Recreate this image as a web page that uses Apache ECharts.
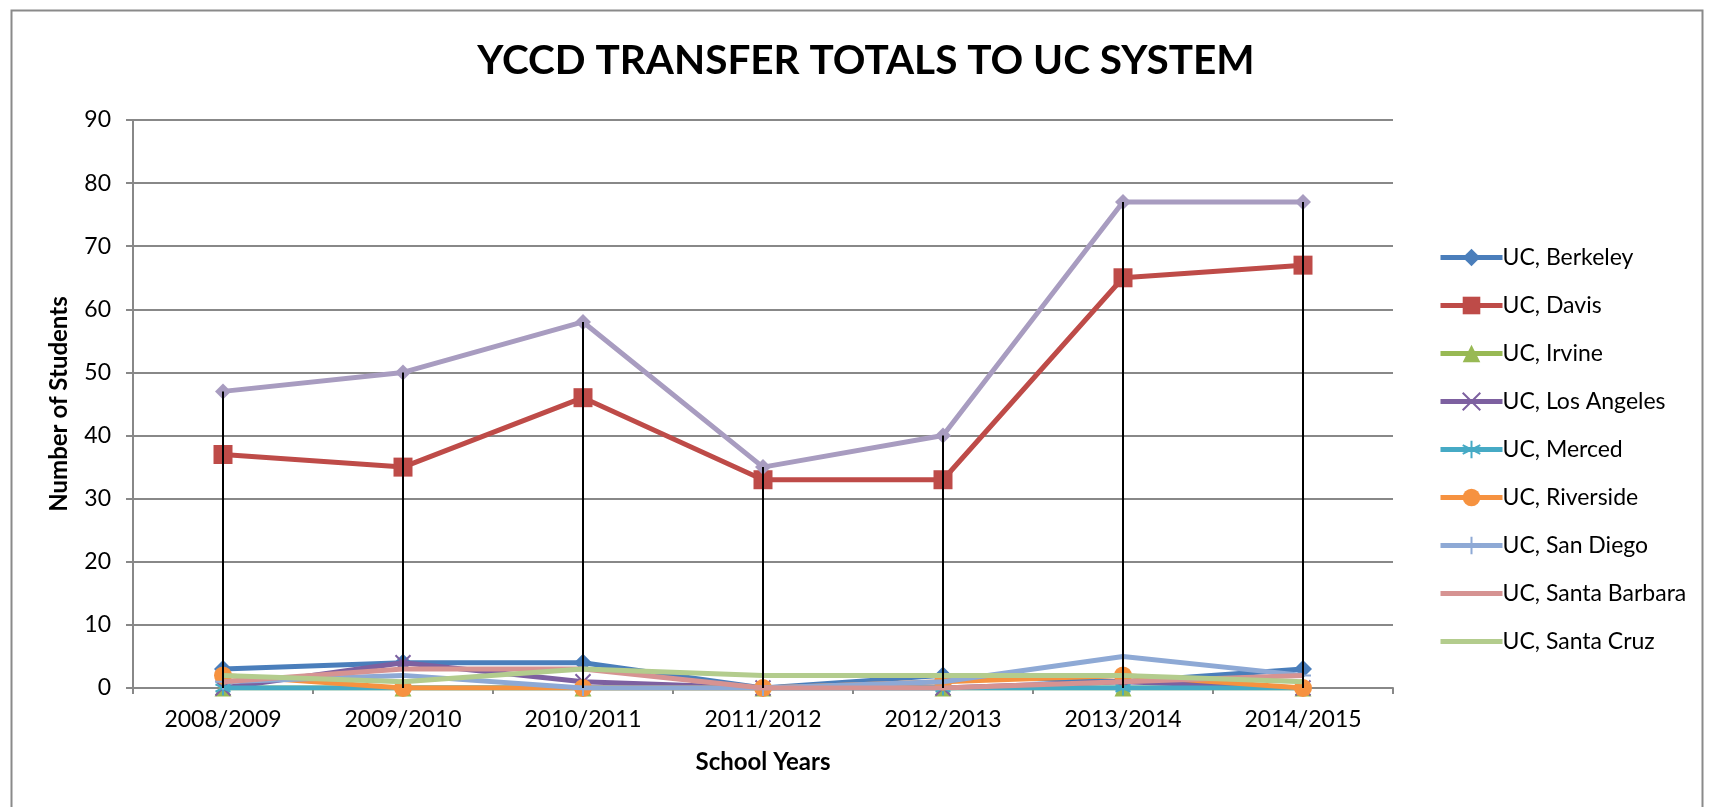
<!DOCTYPE html>
<html><head><meta charset="utf-8">
<script src="https://cdn.jsdelivr.net/npm/echarts@6/dist/echarts.min.js"></script>
<style>html,body{margin:0;padding:0;background:#fff}#c{width:1709px;height:807px}</style>
</head><body><div id="c"></div>
<script>
const categories = ['2008/2009','2009/2010','2010/2011','2011/2012','2012/2013','2013/2014','2014/2015'];
const berkeley     = [3, 4, 4, 0, 2, 1, 3];
const davis        = [37, 35, 46, 33, 33, 65, 67];
const irvine       = [0, 0, 0, 0, 0, 0, 0];
const losAngeles   = [0, 4, 1, 0, 0, 1, 0];
const merced       = [0, 0, 0, 0, 0, 0, 0];
const riverside    = [2, 0, 0, 0, 1, 2, 0];
const sanDiego     = [1, 2, 0, 0, 1, 5, 2];
const santaBarbara = [1, 3, 3, 0, 0, 1, 2];
const santaCruz    = [2, 1, 3, 2, 2, 2, 1];
const total        = [47, 50, 58, 35, 40, 77, 77];
const yTicks = {min: 0, max: 90, interval: 10};

const FONT = 'Lato';
const chart = echarts.init(document.getElementById('c'), null, {renderer: 'canvas'});

const defs = [
  {name: 'UC, Berkeley', data: berkeley, color: '#4A7EBB', symbol: 'diamond', size: 18},
  {name: 'UC, Davis', data: davis, color: '#BE4B48', symbol: 'rect', size: 19},
  {name: 'UC, Irvine', data: irvine, color: '#98B954', symbol: 'triangle', size: 17},
  {name: 'UC, Los Angeles', data: losAngeles, color: '#7D60A0', symbol: 'path://M0,0L10,10M10,0L0,10', size: 15, stroke: true},
  {name: 'UC, Merced', data: merced, color: '#46AAC5', symbol: 'path://M5,0L5,10M0,2.5L10,7.5M0,7.5L10,2.5', size: 15, stroke: true},
  {name: 'UC, Riverside', data: riverside, color: '#F69240', symbol: 'circle', size: 18},
  {name: 'UC, San Diego', data: sanDiego, color: '#8EA9D5', symbol: 'path://M5,0L5,10M0,5L10,5', size: 16, stroke: true},
  {name: 'UC, Santa Barbara', data: santaBarbara, color: '#D69392', symbol: 'none', size: 0},
  {name: 'UC, Santa Cruz', data: santaCruz, color: '#B3CC8D', symbol: 'none', size: 0},
  {name: 'Total', data: total, color: '#A89CC0', symbol: 'diamond', size: 16}
];

const series = defs.map((d, i) => ({
  type: 'line',
  name: d.name,
  data: d.data,
  symbol: d.symbol,
  symbolSize: d.size,
  showSymbol: d.symbol !== 'none',
  z: 2 + i,
  lineStyle: {color: d.color, width: 5},
  itemStyle: d.stroke ? {color: d.color, borderColor: d.color, borderWidth: 2} : {color: d.color},
  emphasis: {disabled: true},
  animation: false
}));

const allSeries = [berkeley, davis, irvine, losAngeles, merced, riverside, sanDiego, santaBarbara, santaCruz, total];
const dropData = categories.map((c, i) => {
  const vals = allSeries.map(a => a[i]);
  return [i, Math.min(...vals), Math.max(...vals)];
});
series.push({
  type: 'custom',
  name: 'drop',
  data: dropData,
  encode: {x: 0, y: [1, 2]},
  z: 50,
  silent: true,
  renderItem: (params, api) => {
    const p1 = api.coord([api.value(0), api.value(1)]);
    const p2 = api.coord([api.value(0), api.value(2)]);
    return {type: 'line', shape: {x1: p1[0], y1: p1[1], x2: p2[0], y2: p2[1]}, style: {stroke: '#000', lineWidth: 2}};
  },
  animation: false
});

const legendData = defs.slice(0, 9).map(d => d.symbol === 'none'
  ? {name: d.name, itemStyle: {opacity: 0}}
  : {name: d.name});

chart.setOption({
  animation: false,
  backgroundColor: '#fff',
  textStyle: {fontFamily: FONT, color: '#000'},
  graphic: [{
    type: 'rect', left: 9, top: 8, z: -10,
    shape: {width: 1691, height: 820},
    style: {fill: 'none', stroke: '#8a8a8a', lineWidth: 2}
  }],
  title: {
    text: 'YCCD TRANSFER TOTALS TO UC SYSTEM',
    left: 861, top: 35, textAlign: 'center',
    textStyle: {fontFamily: FONT, fontWeight: 'bold', fontSize: 40.5, color: '#000'}
  },
  grid: {left: 133, top: 120, width: 1260, height: 568, containLabel: false},
  legend: {
    data: legendData,
    orient: 'vertical', left: 1433, top: 241,
    itemWidth: 62, itemHeight: 22, itemGap: 25,
    lineStyle: {width: 5},
    textStyle: {fontFamily: FONT, fontSize: 23, color: '#000', padding: [0, 0, 0, -5]},
    selectedMode: false
  },
  xAxis: {
    type: 'category', data: categories, boundaryGap: true,
    name: 'School Years', nameLocation: 'middle', nameGap: 62,
    nameTextStyle: {fontFamily: FONT, fontWeight: 'bold', fontSize: 24, color: '#000'},
    axisLine: {lineStyle: {color: '#888', width: 2}},
    axisTick: {show: true, length: 6, lineStyle: {color: '#888', width: 2}},
    axisLabel: {fontFamily: FONT, fontSize: 23, color: '#000', margin: 20}
  },
  yAxis: {
    type: 'value', min: yTicks.min, max: yTicks.max, interval: yTicks.interval,
    name: 'Number of Students', nameLocation: 'middle', nameGap: 62, nameRotate: 90,
    nameTextStyle: {fontFamily: FONT, fontWeight: 'bold', fontSize: 24, color: '#000'},
    axisLine: {show: true, lineStyle: {color: '#888', width: 2}},
    axisTick: {show: true, length: 7, lineStyle: {color: '#888', width: 2}},
    splitLine: {lineStyle: {color: '#888', width: 2}},
    axisLabel: {fontFamily: FONT, fontSize: 23, color: '#000', margin: 22}
  },
  series: series
});
</script>
</body></html>
